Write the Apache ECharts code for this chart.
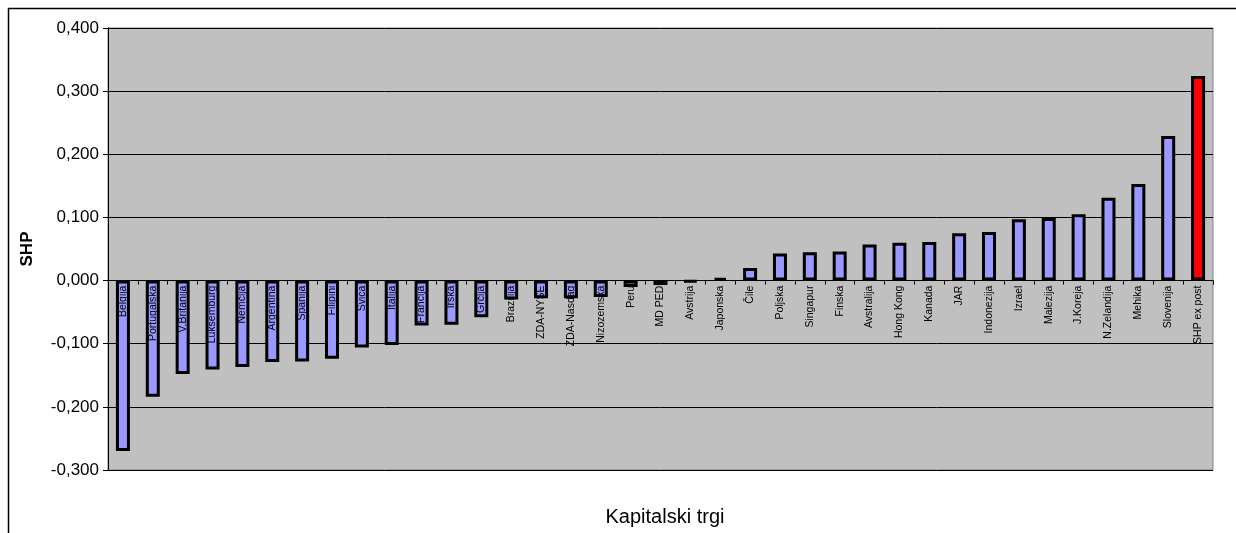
<!DOCTYPE html>
<html>
<head>
<meta charset="utf-8">
<script src="https://cdn.jsdelivr.net/npm/echarts@6/dist/echarts.min.js"></script>
<style>
  html, body { margin: 0; padding: 0; background: #fff; overflow: hidden; }
  #chart { width: 1236px; height: 533px; }
</style>
</head>
<body>
<div id="chart"></div>
<script>
// Capital markets, ordered by SHP value
const categories = [
  'Belgija', 'Portugalska', 'V.Britanija', 'Luksemburg', 'Nemčija', 'Argentina',
  'Španija', 'Filipini', 'Švica', 'Italija', 'Francija', 'Irska', 'Grčija',
  'Brazilija', 'ZDA-NYSE', 'ZDA-Nasdaq', 'Nizozemska', 'Peru', 'MD PED',
  'Avstrija', 'Japonska', 'Čile', 'Poljska', 'Singapur', 'Finska', 'Avstralija',
  'Hong Kong', 'Kanada', 'JAR', 'Indonezija', 'Izrael', 'Malezija', 'J.Koreja',
  'N.Zelandija', 'Mehika', 'Slovenija', 'SHP ex post'
];

const shpValues = [
  -0.270, -0.184, -0.148, -0.141, -0.137, -0.129,
  -0.128, -0.124, -0.106, -0.102, -0.071, -0.070, -0.058,
  -0.030, -0.028, -0.028, -0.026, -0.010, -0.007,
  -0.002, 0.004, 0.020, 0.043, 0.045, 0.046, 0.057,
  0.060, 0.061, 0.075, 0.077, 0.097, 0.099, 0.105,
  0.131, 0.153, 0.229, 0.324
];

// Markets drawn in red instead of the default fill
const highlighted = ['MD PED', 'SHP ex post'];

const yTicks = { min: -0.3, max: 0.4, step: 0.1 };

const FONT = "'Liberation Sans', Arial, sans-serif";
const BAR_FILL = '#9999FF';
const HIGHLIGHT_FILL = '#FF0000';

const W = 1236, H = 533;
const grid = { left: 108, right: 23, top: 28, bottom: 63 };
// Category axis sits on the zero line of the value axis
const plotH = H - grid.top - grid.bottom;
const zeroFromBottom = plotH * (0 - yTicks.min) / (yTicks.max - yTicks.min);

const chart = echarts.init(document.getElementById('chart'), null, { renderer: 'canvas', width: W, height: H });

const barData = shpValues.map((v, i) => ({
  value: v,
  itemStyle: { color: highlighted.includes(categories[i]) ? HIGHLIGHT_FILL : BAR_FILL }
}));

chart.setOption({
  animation: false,
  backgroundColor: '#ffffff',
  textStyle: { fontFamily: FONT },
  title: {
    text: 'Kapitalski trgi',
    left: 660,
    top: 502,
    textAlign: 'center',
    textStyle: { fontFamily: FONT, fontSize: 20, fontWeight: 'normal', color: '#000' }
  },
  graphic: [{
    type: 'rect',
    shape: { x: 8.5, y: 8.5, width: 1400, height: 700 },
    style: { fill: 'none', stroke: '#000', lineWidth: 1.5 },
    silent: true,
    z: -1
  }],
  grid: Object.assign({
    show: true,
    backgroundColor: '#C0C0C0',
    borderColor: '#808080',
    borderWidth: 1,
    containLabel: false,
    outerBoundsMode: 'none'
  }, grid),
  xAxis: {
    type: 'category',
    data: categories,
    position: 'bottom',
    offset: -zeroFromBottom,
    zlevel: 1,
    z: 10,
    axisLine: { onZero: false, lineStyle: { color: '#000', width: 1 } },
    axisTick: { show: true, length: 4, lineStyle: { color: '#000' } },
    axisLabel: {
      interval: 0,
      rotate: 90,
      margin: 5,
      color: '#000',
      fontFamily: FONT,
      fontSize: 10.5
    },
    splitLine: { show: false }
  },
  yAxis: {
    type: 'value',
    min: yTicks.min,
    max: yTicks.max,
    interval: yTicks.step,
    name: 'SHP',
    nameLocation: 'middle',
    nameGap: 72,
    nameTextStyle: { fontFamily: FONT, fontSize: 17, fontWeight: 'bold', color: '#000' },
    axisLine: { show: true, lineStyle: { color: '#000', width: 1 } },
    axisTick: { show: true, length: 5, lineStyle: { color: '#000' } },
    axisLabel: {
      margin: 9,
      color: '#000',
      fontFamily: FONT,
      fontSize: 17,
      formatter: v => v.toFixed(3).replace('.', ',')
    },
    splitLine: { show: true, lineStyle: { color: '#000', width: 1 } }
  },
  series: [{
    type: 'bar',
    data: barData,
    barWidth: 14,
    itemStyle: { borderColor: '#000', borderWidth: 3 }
  }]
});
</script>
</body>
</html>
